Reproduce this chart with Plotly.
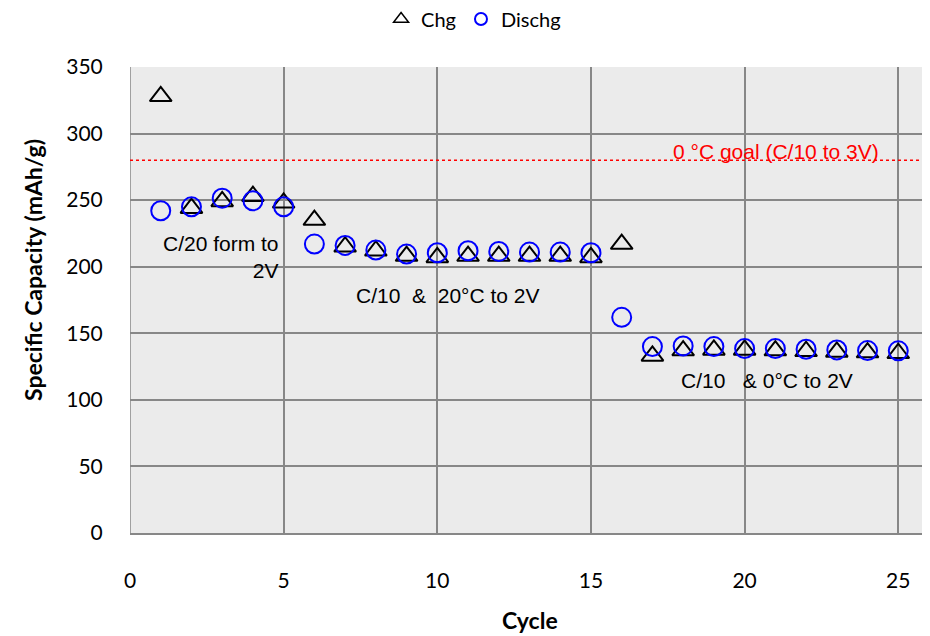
import plotly.graph_objects as go

cycles = list(range(1, 26))
chg = [328, 244, 249, 253, 248, 235, 215, 212, 208, 207, 208, 208, 208, 208, 207,
       217, 133, 137, 137.5, 137.5, 137, 136.5, 136, 135.5, 135]
dischg = [242, 245, 251.5, 249.5, 245, 217, 216, 212.5, 209.5, 210.5, 212, 211.5, 211, 211, 210.5,
          162, 140, 140.5, 140, 138.5, 138.5, 138, 137.5, 137, 136.8]
goal_value = 280
x_ticks = [0, 5, 10, 15, 20, 25]
y_ticks = [0, 50, 100, 150, 200, 250, 300, 350]

grid_col = "#878787"
tick_font = dict(family="Lato, Carlito, sans-serif", size=21, color="#000000")
ann_font = dict(family="Liberation Sans, Arial, sans-serif", size=21, color="#000000")
title_font = dict(family="Lato, Carlito, sans-serif", size=23, color="#000000")

# page body adds an 8px margin; the figure is sized so the whole page is 930x636
W, H = 922, 628
ML, MR, MT, MB = 122, 1, 59, 103

fig = go.Figure()
fig.add_trace(go.Scatter(x=cycles, y=chg, mode="markers", name="Chg", showlegend=False,
                         marker=dict(symbol="triangle-up-open", size=19, color="#000000",
                                     line=dict(width=2, color="#000000"))))
fig.add_trace(go.Scatter(x=cycles, y=dischg, mode="markers", name="Dischg", showlegend=False,
                         marker=dict(symbol="circle-open", size=19, color="#0000ff",
                                     line=dict(width=2, color="#0000ff"))))
# legend entries (smaller markers as in the original legend)
fig.add_trace(go.Scatter(x=[None], y=[None], mode="markers", name="Chg",
                         marker=dict(symbol="triangle-up-open", size=13, color="#000000",
                                     line=dict(width=1.5, color="#000000"))))
fig.add_trace(go.Scatter(x=[None], y=[None], mode="markers", name="Dischg",
                         marker=dict(symbol="circle-open", size=12, color="#0000ff",
                                     line=dict(width=2, color="#0000ff"))))

fig.add_shape(type="line", xref="x", yref="y", x0=0, x1=26, y0=goal_value, y1=goal_value,
              line=dict(color="#ff0000", width=1.5, dash="dot"))
fig.add_shape(type="line", xref="x", yref="y", x0=0, x1=0, y0=0, y1=350,
              line=dict(color=grid_col, width=1.5), layer="below")

fig.add_annotation(x=21.03, y=286.5, text="0 °C goal (C/10 to 3V)", showarrow=False,
                   font=dict(family="Liberation Sans, Arial, sans-serif", size=21, color="#ff0000"))
fig.add_annotation(x=4.9, y=207.5, text="C/20 form to<br>2V", showarrow=False, align="right",
                   xanchor="right", font=ann_font)
fig.add_annotation(x=10.35, y=178.7, text="C/10\u00a0\u00a0&\u00a0\u00a020°C to 2V", showarrow=False,
                   font=ann_font)
fig.add_annotation(x=20.74, y=114.3, text="C/10\u00a0\u00a0\u00a0& 0°C to 2V", showarrow=False,
                   font=ann_font)

# axis titles
plot_w = W - ML - MR
plot_h = H - MT - MB
fig.add_annotation(xref="paper", yref="paper", x=(25 - ML) / plot_w, y=1 - (262 - MT) / plot_h,
                   text="<b>Specific Capacity (mAh/g)</b>", textangle=-90, showarrow=False,
                   xanchor="center", yanchor="middle", font=title_font)
fig.add_annotation(xref="paper", yref="paper", x=0.5, y=-(612 - MT - plot_h) / plot_h,
                   text="<b>Cycle</b>", showarrow=False, xanchor="center", yanchor="middle",
                   font=title_font)

fig.update_layout(
    width=W, height=H,
    margin=dict(l=ML, r=MR, t=MT, b=MB, autoexpand=False),
    paper_bgcolor="#ffffff",
    plot_bgcolor="#ebebeb",
    showlegend=True,
    legend=dict(orientation="h", x=0.43, xanchor="center", y=1 + (MT - 11) / plot_h,
                yanchor="middle", font=dict(family="Lato, Carlito, sans-serif", size=20, color="#000000"),
                bgcolor="rgba(0,0,0,0)", itemwidth=30, tracegroupgap=0),
)
fig.update_xaxes(range=[0, 26], tickvals=x_ticks, showgrid=True, gridcolor=grid_col, gridwidth=1.5,
                 showline=True, linecolor=grid_col, linewidth=1.5, zeroline=False,
                 ticks="outside", ticklen=28, tickcolor="rgba(0,0,0,0)", tickfont=tick_font)
fig.update_yaxes(range=[0, 350], tickvals=y_ticks, showgrid=True, gridcolor=grid_col, gridwidth=1.5,
                 showline=False, zeroline=False,
                 ticks="outside", ticklen=22, tickcolor="rgba(0,0,0,0)", tickfont=tick_font)

fig.write_html("out.html")
